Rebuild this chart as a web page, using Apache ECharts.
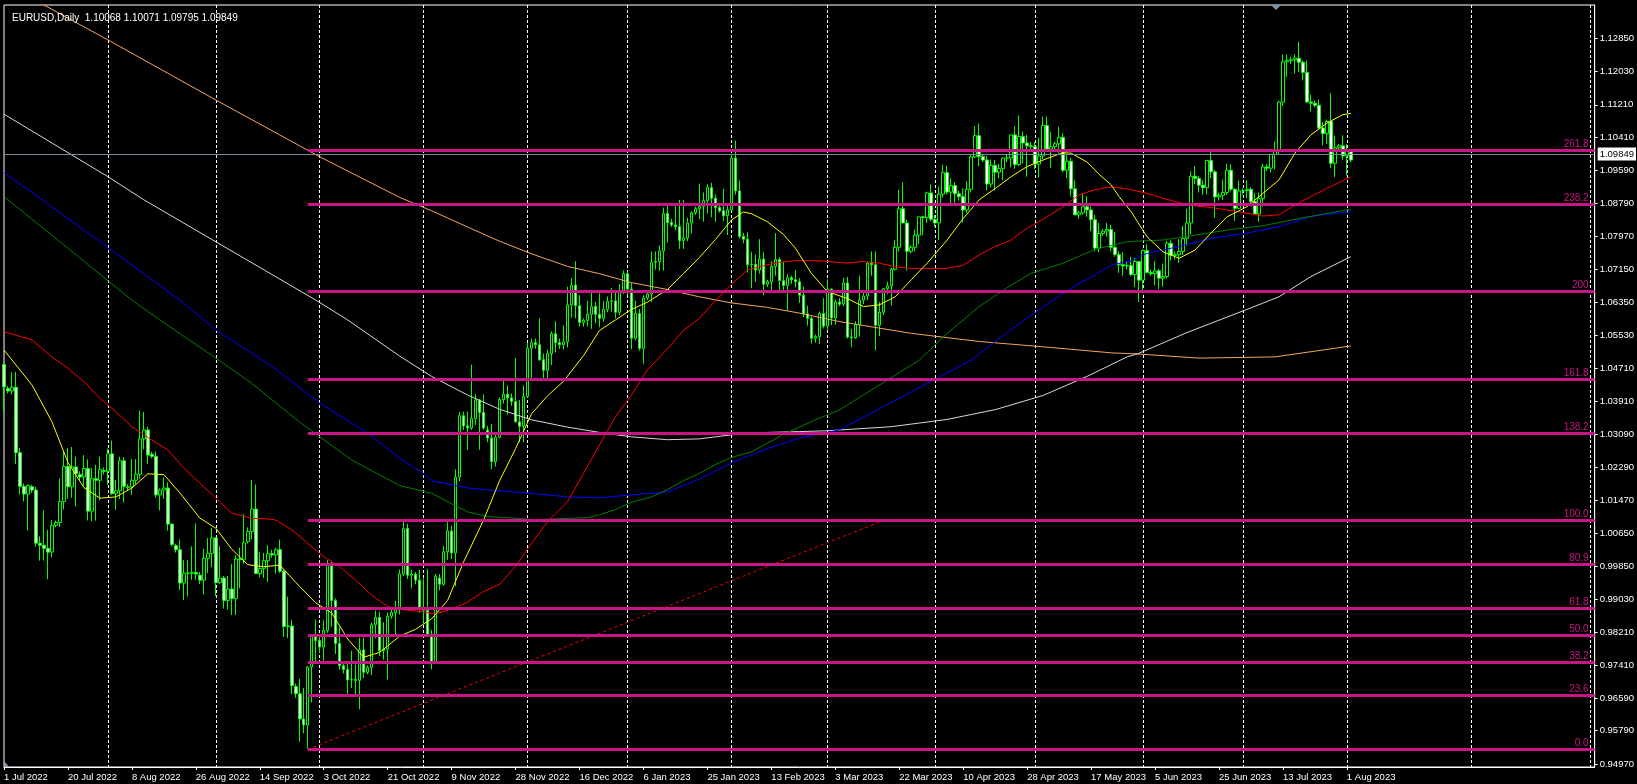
<!DOCTYPE html>
<html><head><meta charset="utf-8">
<script src="https://cdn.jsdelivr.net/npm/echarts@6/dist/echarts.min.js"></script>
<style>html,body{margin:0;padding:0;background:#000;overflow:hidden}#chart{width:1637px;height:784px}</style>
</head><body><div id="chart"></div>
<script>
// ---------- DATA ----------
const symbolName = 'EURUSD,Daily';
const firstBarDate = '2022-07-01';
const lastBarDate = '2023-08-02';
const skippedDays = ['2022-12-25', '2023-01-01', '2023-06-18']; // Sundays without a bar
const totalSlots = 399; // bars + empty future space to the right

// [open, high, low, close] per bar (Sun–Fri bars)
const ohlc = [
[1.0481,1.0486,1.0366,1.0426],
[1.0422,1.0428,1.0410,1.0416],[1.0416,1.0462,1.0407,1.0425],[1.0425,1.0463,1.0236,1.0264],[1.0264,1.0276,1.0161,1.0181],[1.0181,1.0188,1.0144,1.0162],[1.0162,1.0186,1.0072,1.0183],
[1.0180,1.0185,1.0165,1.0172],[1.0172,1.0180,1.0033,1.0041],[1.0041,1.0058,0.9998,1.0036],[1.0036,1.0122,0.9998,1.0028],[1.0028,1.0074,0.9952,1.0019],[1.0019,1.0098,1.0006,1.0085],
[1.0085,1.0097,1.0080,1.0092],[1.0092,1.0200,1.0081,1.0144],[1.0144,1.0268,1.0124,1.0230],[1.0230,1.0275,1.0150,1.0180],[1.0180,1.0278,1.0153,1.0229],[1.0229,1.0254,1.0131,1.0212],
[1.0210,1.0218,1.0196,1.0204],[1.0204,1.0258,1.0181,1.0225],[1.0225,1.0248,1.0097,1.0120],[1.0120,1.0226,1.0095,1.0200],[1.0200,1.0234,1.0097,1.0196],[1.0196,1.0254,1.0146,1.0223],
[1.0220,1.0228,1.0210,1.0218],[1.0218,1.0274,1.0185,1.0261],[1.0261,1.0294,1.0160,1.0163],[1.0163,1.0197,1.0123,1.0170],[1.0170,1.0254,1.0150,1.0244],[1.0244,1.0253,1.0141,1.0181],
[1.0178,1.0186,1.0170,1.0180],[1.0180,1.0248,1.0160,1.0196],[1.0196,1.0248,1.0186,1.0211],[1.0211,1.0368,1.0200,1.0298],[1.0298,1.0364,1.0272,1.0320],[1.0320,1.0328,1.0236,1.0258],
[1.0260,1.0266,1.0250,1.0255],[1.0255,1.0267,1.0153,1.0160],[1.0160,1.0176,1.0122,1.0172],[1.0172,1.0203,1.0150,1.0177],[1.0177,1.0191,1.0072,1.0088],[1.0088,1.0090,1.0033,1.0038],
[1.0035,1.0040,1.0018,1.0025],[1.0025,1.0050,0.9926,0.9943],[0.9943,0.9999,0.9901,0.9967],[0.9967,0.9999,0.9910,0.9967],[0.9967,1.0033,0.9951,0.9969],[0.9969,1.0090,0.9951,0.9965],
[0.9962,0.9970,0.9940,0.9950],[0.9950,1.0027,0.9914,1.0004],[1.0004,1.0054,0.9967,1.0016],[1.0016,1.0079,0.9982,1.0054],[1.0054,1.0056,0.9911,0.9944],[0.9944,1.0033,0.9941,0.9955],
[0.9955,0.9960,0.9880,0.9900],[0.9900,0.9960,0.9877,0.9928],[0.9928,0.9990,0.9864,0.9905],[0.9905,1.0011,0.9864,1.0002],[1.0002,1.0030,0.9930,1.0000],[1.0000,1.0113,0.9990,1.0042],
[1.0045,1.0080,1.0040,1.0070],[1.0070,1.0197,1.0050,1.0125],[1.0125,1.0186,0.9966,0.9966],[0.9966,1.0020,0.9957,0.9979],[0.9979,1.0017,0.9955,0.9998],[0.9998,1.0036,0.9945,1.0015],
[1.0015,1.0025,1.0005,1.0012],[1.0012,1.0030,0.9966,1.0025],[1.0025,1.0050,0.9968,0.9972],[0.9972,0.9976,0.9810,0.9836],[0.9836,0.9909,0.9807,0.9837],[0.9837,0.9852,0.9669,0.9690],
[0.9688,0.9695,0.9660,0.9670],[0.9670,0.9707,0.9552,0.9608],[0.9608,0.9684,0.9573,0.9593],[0.9593,0.9738,0.9535,0.9736],[0.9736,0.9816,0.9649,0.9815],[0.9815,0.9853,0.9749,0.9801],
[0.9801,0.9810,0.9770,0.9785],[0.9785,0.9851,0.9751,0.9826],[0.9826,0.9999,0.9820,0.9986],[0.9986,0.9998,0.9835,0.9900],[0.9900,0.9905,0.9768,0.9794],[0.9794,0.9834,0.9729,0.9739],
[0.9739,0.9745,0.9720,0.9730],[0.9730,0.9748,0.9668,0.9704],[0.9704,0.9776,0.9684,0.9705],[0.9705,0.9742,0.9665,0.9703],[0.9703,0.9808,0.9632,0.9778],[0.9778,0.9809,0.9709,0.9723],
[0.9723,0.9740,0.9718,0.9735],[0.9735,0.9846,0.9716,0.9840],[0.9840,0.9875,0.9807,0.9858],[0.9858,0.9872,0.9763,0.9776],[0.9776,0.9846,0.9754,0.9780],[0.9780,0.9870,0.9705,0.9861],
[0.9861,0.9880,0.9855,0.9870],[0.9870,0.9899,0.9810,0.9877],[0.9877,0.9976,0.9865,0.9965],[0.9965,1.0094,0.9960,1.0077],[1.0077,1.0089,0.9953,0.9962],[0.9962,0.9976,0.9930,0.9965],
[0.9965,0.9970,0.9940,0.9950],[0.9950,0.9975,0.9870,0.9883],[0.9883,0.9954,0.9846,0.9876],[0.9876,0.9977,0.9817,0.9817],[0.9817,0.9827,0.9730,0.9748],[0.9748,0.9965,0.9746,0.9960],
[0.9955,0.9965,0.9925,0.9940],[0.9940,1.0034,0.9936,1.0020],[1.0020,1.0093,1.0000,1.0071],[1.0071,1.0084,1.0002,1.0017],[1.0017,1.0223,0.9935,1.0204],[1.0204,1.0364,1.0194,1.0355],
[1.0355,1.0365,1.0320,1.0330],[1.0330,1.0365,1.0271,1.0325],[1.0325,1.0481,1.0320,1.0348],[1.0348,1.0408,1.0332,1.0394],[1.0394,1.0396,1.0271,1.0363],[1.0363,1.0408,1.0320,1.0325],
[1.0320,1.0330,1.0290,1.0300],[1.0300,1.0335,1.0223,1.0242],[1.0242,1.0308,1.0230,1.0302],[1.0302,1.0400,1.0299,1.0395],[1.0395,1.0448,1.0385,1.0408],[1.0408,1.0430,1.0357,1.0399],
[1.0399,1.0410,1.0380,1.0390],[1.0390,1.0497,1.0339,1.0340],[1.0340,1.0394,1.0290,1.0329],[1.0329,1.0429,1.0290,1.0402],[1.0402,1.0534,1.0399,1.0521],[1.0521,1.0545,1.0446,1.0535],
[1.0535,1.0545,1.0520,1.0530],[1.0530,1.0595,1.0490,1.0493],[1.0493,1.0508,1.0441,1.0467],[1.0467,1.0518,1.0443,1.0508],[1.0508,1.0563,1.0480,1.0557],[1.0557,1.0588,1.0511,1.0535],
[1.0535,1.0545,1.0520,1.0530],[1.0530,1.0578,1.0518,1.0537],[1.0537,1.0673,1.0523,1.0628],[1.0628,1.0695,1.0597,1.0677],[1.0677,1.0736,1.0595,1.0626],[1.0626,1.0652,1.0575,1.0585],
[1.0585,1.0595,1.0575,1.0590],[1.0590,1.0638,1.0575,1.0605],[1.0605,1.0658,1.0569,1.0624],[1.0624,1.0636,1.0583,1.0605],[1.0605,1.0657,1.0573,1.0595],[1.0595,1.0638,1.0587,1.0617],
[1.0617,1.0649,1.0610,1.0637],[1.0637,1.0670,1.0611,1.0638],[1.0638,1.0664,1.0595,1.0610],[1.0610,1.0679,1.0603,1.0660],[1.0660,1.0713,1.0655,1.0705],
[1.0705,1.0710,1.0652,1.0667],[1.0667,1.0683,1.0519,1.0546],[1.0546,1.0638,1.0540,1.0607],[1.0607,1.0618,1.0515,1.0521],[1.0521,1.0652,1.0483,1.0645],
[1.0645,1.0665,1.0640,1.0655],[1.0655,1.0760,1.0635,1.0733],[1.0733,1.0760,1.0715,1.0735],[1.0735,1.0775,1.0712,1.0761],[1.0761,1.0868,1.0713,1.0853],[1.0853,1.0873,1.0781,1.0831],
[1.0831,1.0840,1.0820,1.0825],[1.0825,1.0873,1.0812,1.0821],[1.0821,1.0887,1.0766,1.0787],[1.0787,1.0887,1.0766,1.0793],[1.0793,1.0843,1.0785,1.0830],[1.0830,1.0858,1.0804,1.0855],
[1.0855,1.0870,1.0850,1.0865],[1.0865,1.0927,1.0840,1.0871],[1.0871,1.0905,1.0833,1.0885],[1.0885,1.0925,1.0854,1.0917],[1.0917,1.0929,1.0844,1.0891],[1.0891,1.0900,1.0833,1.0868],
[1.0868,1.0875,1.0855,1.0860],[1.0860,1.0914,1.0835,1.0848],[1.0848,1.0878,1.0800,1.0862],[1.0862,1.1000,1.0860,1.0990],[1.0990,1.1033,1.0900,1.0909],[1.0909,1.0935,1.0792,1.0797],
[1.0797,1.0805,1.0780,1.0790],[1.0790,1.0807,1.0708,1.0727],[1.0727,1.0759,1.0669,1.0728],[1.0728,1.0752,1.0685,1.0714],[1.0714,1.0790,1.0705,1.0741],[1.0741,1.0758,1.0652,1.0679],
[1.0679,1.0690,1.0672,1.0685],[1.0685,1.0736,1.0658,1.0723],[1.0723,1.0805,1.0700,1.0740],[1.0740,1.0745,1.0660,1.0688],[1.0688,1.0735,1.0665,1.0676],[1.0676,1.0704,1.0613,1.0695],
[1.0695,1.0700,1.0680,1.0690],[1.0690,1.0714,1.0671,1.0685],[1.0685,1.0694,1.0633,1.0652],[1.0652,1.0673,1.0598,1.0606],[1.0606,1.0626,1.0577,1.0595],[1.0595,1.0600,1.0533,1.0546],
[1.0546,1.0555,1.0535,1.0550],[1.0550,1.0612,1.0532,1.0607],[1.0607,1.0645,1.0570,1.0576],[1.0576,1.0691,1.0567,1.0667],[1.0667,1.0668,1.0578,1.0596],[1.0596,1.0641,1.0579,1.0635],
[1.0635,1.0645,1.0625,1.0630],[1.0630,1.0695,1.0625,1.0682],[1.0682,1.0697,1.0545,1.0549],[1.0549,1.0569,1.0524,1.0547],[1.0547,1.0588,1.0544,1.0579],[1.0579,1.0700,1.0550,1.0640],
[1.0640,1.0660,1.0630,1.0650],[1.0650,1.0735,1.0640,1.0731],[1.0731,1.0760,1.0700,1.0727],[1.0727,1.0760,1.0516,1.0578],[1.0578,1.0635,1.0551,1.0610],[1.0610,1.0670,1.0603,1.0668],
[1.0668,1.0685,1.0655,1.0675],[1.0675,1.0719,1.0627,1.0716],[1.0716,1.0788,1.0713,1.0770],[1.0770,1.0912,1.0760,1.0865],[1.0865,1.0930,1.0830,1.0830],[1.0830,1.0838,1.0713,1.0760],
[1.0760,1.0775,1.0755,1.0770],[1.0770,1.0814,1.0760,1.0800],[1.0800,1.0846,1.0778,1.0845],[1.0845,1.0848,1.0800,1.0843],[1.0843,1.0907,1.0830,1.0904],[1.0904,1.0925,1.0835,1.0839],
[1.0839,1.0850,1.0820,1.0830],[1.0830,1.0919,1.0788,1.0901],[1.0901,1.0973,1.0893,1.0954],[1.0954,1.0971,1.0900,1.0906],[1.0906,1.0940,1.0878,1.0922],[1.0922,1.0930,1.0880,1.0902],
[1.0902,1.0910,1.0885,1.0895],[1.0895,1.0915,1.0831,1.0862],[1.0862,1.0933,1.0855,1.0913],[1.0913,1.0998,1.0905,1.0993],[1.0993,1.1068,1.0990,1.1045],[1.1045,1.1075,1.0970,1.0994],
[1.0994,1.1000,1.0980,1.0985],[1.0985,1.0995,1.0910,1.0926],[1.0926,1.0986,1.0918,1.0972],[1.0972,1.0985,1.0910,1.0955],[1.0955,1.0975,1.0940,1.0964],[1.0964,1.0991,1.0935,1.0990],
[1.0990,1.1000,1.0980,1.0990],[1.0990,1.1048,1.0967,1.1047],[1.1047,1.1068,1.0964,1.0974],[1.0974,1.1095,1.0970,1.1043],[1.1043,1.1055,1.0977,1.1027],[1.1027,1.1047,1.0944,1.1020],
[1.1020,1.1030,1.1010,1.1018],[1.1018,1.1030,1.0963,1.0975],[1.0975,1.1040,1.0942,1.0995],[1.0995,1.1092,1.0987,1.1070],[1.1070,1.1092,1.1010,1.1012],[1.1012,1.1054,1.0966,1.1018],
[1.1018,1.1030,1.1010,1.1025],[1.1025,1.1067,1.1002,1.1041],[1.1041,1.1051,1.0955,1.0960],[1.0960,1.1000,1.0940,1.0982],[1.0982,1.0990,1.0896,1.0914],[1.0914,1.0935,1.0849,1.0850],
[1.0850,1.0860,1.0840,1.0855],[1.0855,1.0904,1.0850,1.0870],[1.0870,1.0896,1.0845,1.0862],[1.0862,1.0870,1.0810,1.0838],[1.0838,1.0850,1.0760,1.0768],[1.0768,1.0830,1.0758,1.0804],
[1.0804,1.0815,1.0798,1.0810],[1.0810,1.0830,1.0796,1.0814],[1.0814,1.0825,1.0760,1.0770],[1.0770,1.0808,1.0747,1.0752],[1.0752,1.0760,1.0707,1.0727],[1.0727,1.0758,1.0700,1.0724],
[1.0724,1.0735,1.0715,1.0725],[1.0725,1.0747,1.0699,1.0703],[1.0703,1.0745,1.0672,1.0735],[1.0735,1.0736,1.0635,1.0689],[1.0689,1.0765,1.0665,1.0762],[1.0762,1.0778,1.0706,1.0708],
[1.0708,1.0715,1.0700,1.0705],[1.0705,1.0736,1.0676,1.0712],[1.0712,1.0717,1.0667,1.0694],[1.0694,1.0730,1.0673,1.0698],[1.0698,1.0786,1.0693,1.0780],[1.0780,1.0787,1.0737,1.0750],
[1.0750,1.0760,1.0740,1.0752],[1.0752,1.0790,1.0732,1.0760],[1.0760,1.0823,1.0751,1.0792],[1.0792,1.0865,1.0774,1.0830],[1.0830,1.0957,1.0802,1.0945],[1.0945,1.0970,1.0926,1.0940],
[1.0940,1.0946,1.0905,1.0923],[1.0923,1.0935,1.0899,1.0917],[1.0917,1.0985,1.0900,1.0984],[1.0984,1.1012,1.0940,1.0956],[1.0956,1.0961,1.0843,1.0894],
[1.0894,1.0905,1.0885,1.0898],[1.0898,1.0937,1.0887,1.0905],[1.0905,1.0976,1.0899,1.0960],[1.0960,1.0974,1.0908,1.0913],[1.0913,1.0915,1.0835,1.0866],[1.0866,1.0934,1.0865,1.0909],
[1.0909,1.0915,1.0900,1.0910],[1.0910,1.0935,1.0891,1.0913],[1.0913,1.0918,1.0871,1.0883],[1.0883,1.0903,1.0851,1.0852],[1.0852,1.0905,1.0833,1.0890],[1.0890,1.0975,1.0870,1.0968],
[1.0968,1.0975,1.0958,1.0965],[1.0965,1.1001,1.0954,1.0999],[1.0999,1.1031,1.0962,1.1009],[1.1009,1.1131,1.1000,1.1128],[1.1128,1.1245,1.1118,1.1227],[1.1227,1.1245,1.1190,1.1230],
[1.1230,1.1240,1.1222,1.1232],[1.1232,1.1245,1.1198,1.1236],[1.1236,1.1276,1.1202,1.1226],[1.1226,1.1230,1.1181,1.1201],[1.1201,1.1230,1.1126,1.1128],[1.1128,1.1146,1.1105,1.1125],
[1.1125,1.1132,1.1115,1.1120],[1.1120,1.1134,1.1060,1.1064],[1.1064,1.1078,1.1021,1.1050],[1.1050,1.1085,1.1025,1.1080],[1.1080,1.1150,1.0965,1.0977],[1.0977,1.1045,1.0943,1.1015],
[1.1015,1.1025,1.1008,1.1020],[1.1020,1.1046,1.0985,1.0995],[1.0995,1.1024,1.0947,1.1006],[1.10068,1.10071,1.09795,1.09849]
];

// Moving averages: [barIndex, value]
const maYellow = [[0,1.0517],[3,1.0480],[7,1.0431],[12,1.0340],[16,1.0240],[20,1.0178],[24,1.0152],[28,1.0155],[32,1.0177],[36,1.0212],[40,1.0210],[44,1.0165],[49,1.0103],[53,1.0078],[57,1.0026],[61,0.9988],[65,0.9983],[69,0.9987],[74,0.9934],[78,0.9894],[82,0.9869],[86,0.9805],[90,0.9760],[94,0.9772],[99,0.9812],[103,0.9829],[107,0.9855],[111,0.9900],[115,0.9995],[120,1.0098],[124,1.0195],[128,1.0274],[132,1.0360],[136,1.0404],[140,1.0440],[145,1.0503],[149,1.0565],[153,1.0591],[157,1.0617],[161,1.0635],[166,1.0666],[170,1.0705],[174,1.0745],[178,1.0789],[182,1.0837],[185,1.0857],[187,1.0853],[191,1.0833],[195,1.0802],[198,1.0768],[202,1.0706],[206,1.0661],[211,1.0644],[215,1.0624],[219,1.0628],[223,1.0648],[227,1.0690],[231,1.0731],[236,1.0788],[240,1.0841],[244,1.0887],[248,1.0915],[252,1.0944],[256,1.0969],[261,1.0989],[265,1.1003],[267,1.1002],[271,1.0980],[274,1.0950],[277,1.0924],[279,1.0895],[282,1.0858],[286,1.0796],[290,1.0759],[294,1.0743],[298,1.0763],[302,1.0805],[306,1.0845],[311,1.0870],[315,1.0903],[319,1.0936],[323,1.1002],[327,1.1047],[331,1.1076],[335,1.1097],[337,1.1100]];
const maRed = [[0,1.0562],[7,1.0542],[12,1.0500],[16,1.0472],[20,1.0439],[24,1.0398],[28,1.0365],[32,1.0328],[37,1.0295],[41,1.0271],[45,1.0226],[49,1.0189],[53,1.0152],[57,1.0115],[62,1.0102],[66,1.0101],[68,1.0098],[72,1.0074],[76,1.0041],[80,1.0008],[84,0.9983],[88,0.9950],[92,0.9913],[96,0.9885],[100,0.9877],[105,0.9872],[108,0.9866],[113,0.9883],[116,0.9896],[120,0.9922],[124,0.9940],[128,0.9984],[132,1.0041],[136,1.0094],[141,1.0143],[145,1.0213],[149,1.0283],[153,1.0353],[157,1.0406],[161,1.0468],[166,1.0520],[170,1.0565],[174,1.0595],[178,1.0639],[182,1.0679],[186,1.0714],[191,1.0727],[195,1.0734],[199,1.0738],[205,1.0736],[211,1.0731],[215,1.0735],[219,1.0731],[223,1.0722],[227,1.0718],[236,1.0718],[240,1.0726],[244,1.0751],[248,1.0772],[252,1.0788],[256,1.0817],[261,1.0845],[265,1.0870],[269,1.0899],[273,1.0912],[277,1.0919],[281,1.0914],[286,1.0903],[290,1.0891],[294,1.0880],[298,1.0872],[302,1.0868],[306,1.0862],[311,1.0854],[315,1.0847],[319,1.0850],[323,1.0874],[327,1.0895],[331,1.0915],[337,1.0944]];
const maGreen = [[0,1.0895],[32,1.0640],[39,1.0591],[53,1.0497],[62,1.0435],[74,1.0339],[87,1.0246],[99,1.0183],[107,1.0164],[112,1.0138],[116,1.0118],[121,1.0107],[133,1.0099],[146,1.0104],[149,1.0111],[153,1.0124],[157,1.0142],[162,1.0155],[166,1.0173],[170,1.0195],[174,1.0213],[178,1.0235],[182,1.0252],[187,1.0266],[191,1.0287],[195,1.0309],[199,1.0327],[203,1.0345],[209,1.0369],[229,1.0492],[236,1.0558],[244,1.0624],[252,1.0677],[257,1.0706],[265,1.0731],[273,1.0765],[281,1.0784],[290,1.0788],[298,1.0800],[307,1.0814],[315,1.0823],[323,1.0839],[332,1.0855],[337,1.0864]];
const maBlue = [[0,1.0954],[9,1.0891],[44,1.0640],[50,1.0591],[53,1.0566],[66,1.0484],[79,1.0386],[91,1.0312],[99,1.0250],[105,1.0213],[107,1.0195],[116,1.0177],[124,1.0170],[132,1.0164],[141,1.0155],[149,1.0153],[157,1.0160],[166,1.0167],[174,1.0199],[182,1.0239],[191,1.0274],[199,1.0300],[209,1.0320],[242,1.0492],[248,1.0538],[257,1.0603],[265,1.0657],[269,1.0681],[273,1.0702],[277,1.0726],[282,1.0737],[286,1.0755],[294,1.0772],[302,1.0792],[311,1.0805],[319,1.0821],[327,1.0846],[337,1.0858]];
const maWhite = [[0,1.1098],[26,1.0944],[35,1.0887],[78,1.0640],[86,1.0591],[99,1.0502],[107,1.0452],[116,1.0406],[124,1.0371],[132,1.0345],[141,1.0327],[149,1.0314],[157,1.0303],[166,1.0296],[174,1.0298],[182,1.0308],[191,1.0314],[199,1.0316],[206,1.0318],[222,1.0328],[236,1.0346],[248,1.0370],[260,1.0405],[271,1.0452],[281,1.0500],[284,1.0509],[296,1.0560],[311,1.0617],[319,1.0648],[327,1.0698],[337,1.0747]];
const maOrange = [[0,1.1415],[10,1.1367],[26,1.1281],[53,1.1133],[79,1.0993],[99,1.0893],[107,1.0860],[116,1.0820],[124,1.0785],[132,1.0754],[141,1.0723],[149,1.0705],[157,1.0683],[166,1.0666],[174,1.0648],[182,1.0633],[191,1.0622],[199,1.0608],[209,1.0587],[227,1.0558],[244,1.0538],[261,1.0524],[277,1.0510],[284,1.0507],[299,1.0497],[318,1.0500],[337,1.0527]];

// Fibonacci tool anchors and levels
const fibStartBar = 76, fibEndBar = 220;
const fibLow = 0.9533, fibHigh = 1.0097;
const fibRatios = [0, 0.236, 0.382, 0.5, 0.618, 0.809, 1.0, 1.382, 1.618, 2.0, 2.382, 2.618];
const fibLabels = ['0.0','23.6','38.2','50.0','61.8','80.9','100.0','138.2','161.8','200','238.2','261.8'];

// Price axis
const yTickLabels = ['0.94970','0.95790','0.96590','0.97410','0.98210','0.99030','0.99850','1.00650','1.01470','1.02290','1.03090','1.03910','1.04710','1.05530','1.06350','1.07150','1.07970','1.08790','1.09590','1.10410','1.11210','1.12030','1.12850'];
const yMin = 0.94896, yMax = 1.13670;

// ---------- BUILD ----------
const monthNames = ['Jan','Feb','Mar','Apr','May','Jun','Jul','Aug','Sep','Oct','Nov','Dec'];
const DAY = 86400000;
const dates = [];
(function () {
  let t = Date.parse(firstBarDate + 'T00:00:00Z');
  const end = Date.parse(lastBarDate + 'T00:00:00Z');
  while (t <= end) {
    const d = new Date(t);
    const iso = d.toISOString().slice(0, 10);
    if (d.getUTCDay() !== 6 && skippedDays.indexOf(iso) < 0) dates.push(d);
    t += DAY;
  }
  while (dates.length < totalSlots) { dates.push(new Date(t)); t += DAY; }
})();
const categories = dates.map(d => d.getUTCDate() + ' ' + monthNames[d.getUTCMonth()] + ' ' + d.getUTCFullYear());
const isLabelBar = i => i % 16 === 0 && i < ohlc.length;
const isMonthStart = i => i > 0 && dates[i].getUTCMonth() !== dates[i - 1].getUTCMonth();

const FONT = "'Liberation Sans',Arial,sans-serif";
const FS = 9.5;
const MAG = '#C71585';
const last = ohlc[ohlc.length - 1];
const f5 = v => v.toFixed(5);

const maSeries = (data, color, z) => ({
  type: 'line', data: data, showSymbol: false, symbol: 'none', silent: true,
  lineStyle: { color: color, width: 1 }, z: z, animation: false
});

const fibLines = fibRatios.map((r, k) => {
  const lvl = fibLow + r * (fibHigh - fibLow);
  return [
    { coord: [fibStartBar, lvl], label: { show: true, position: 'insideEndTop', formatter: fibLabels[k], color: MAG, fontSize: 10, fontFamily: FONT, distance: [6, 1] } },
    { coord: [totalSlots - 1, lvl] }
  ];
});

const chart = echarts.init(document.getElementById('chart'), null, { renderer: 'canvas' });
chart.setOption({
  backgroundColor: '#000',
  animation: false,
  title: {
    text: symbolName + '  ' + last.map(f5).join(' '),
    left: 7, top: 8,
    textStyle: { color: '#fff', fontSize: 10, fontWeight: 'normal', fontFamily: FONT }
  },
  grid: { left: 4, right: 41, top: 5, bottom: 17, show: true, borderColor: '#fff', borderWidth: 1, backgroundColor: '#000' },
  xAxis: {
    type: 'category', data: categories, boundaryGap: false,
    axisLine: { show: true, lineStyle: { color: '#fff', width: 1 } },
    axisTick: { show: true, interval: isLabelBar, length: 3, lineStyle: { color: '#fff' } },
    axisLabel: { interval: isLabelBar, color: '#fff', fontSize: FS, fontFamily: FONT, align: 'left', margin: 5, showMinLabel: true },
    splitLine: { show: true, interval: isMonthStart, lineStyle: { color: '#fff', width: 1, type: [3, 2] } }
  },
  yAxis: {
    type: 'value', position: 'right', min: yMin, max: yMax, scale: true,
    axisLine: { show: true, lineStyle: { color: '#fff', width: 1 } },
    axisTick: { show: true, length: 3, lineStyle: { color: '#fff' }, customValues: yTickLabels.map(Number) },
    axisLabel: { color: '#fff', fontSize: FS, fontFamily: FONT, margin: 5, customValues: yTickLabels.map(Number), formatter: v => v.toFixed(5) },
    splitLine: { show: false }
  },
  graphic: [
    { type: 'polygon', silent: true, z: 100, shape: { points: [[1271, 5], [1281, 5], [1276, 10]] }, style: { fill: '#7f8fa6' } },
    { type: 'polygon', silent: true, z: 100, shape: { points: [[4, 761], [4, 767], [9, 767]] }, style: { fill: '#8f9fb0' } }
  ],
  series: [
    {
      type: 'candlestick', name: 'EURUSD',
      data: ohlc.map(r => [r[0], r[3], r[2], r[1]]),
      barWidth: 3, z: 2, silent: true,
      itemStyle: { color: '#000', color0: '#fff', borderColor: '#00ff00', borderColor0: '#00ff00', borderWidth: 1 },
      markLine: {
        silent: true, symbol: 'none', z: 6, animation: false,
        lineStyle: { color: '#778899', width: 1, type: 'solid' },
        label: { show: true, position: 'end', formatter: f5(last[3]), color: '#000', backgroundColor: '#fff', padding: [2, 2, 1, 2], fontSize: FS, fontFamily: FONT, distance: 3 },
        data: [{ yAxis: last[3] }]
      }
    },
    maSeries(maOrange, '#F4A460', 3),
    maSeries(maWhite, '#D8D8D8', 3),
    maSeries(maBlue, '#0000FF', 3),
    maSeries(maGreen, '#008000', 3),
    maSeries(maRed, '#FF0000', 3),
    maSeries(maYellow, '#FFFF00', 3),
    {
      type: 'line', name: 'fibo', silent: true, showSymbol: false, symbol: 'none', z: 4,
      data: [[fibStartBar, fibLow], [fibEndBar, fibHigh]],
      lineStyle: { color: '#FF0000', width: 1, type: [3, 3] },
      markLine: {
        silent: true, symbol: 'none', z: 5, animation: false,
        lineStyle: { color: MAG, width: 3, type: 'solid' },
        data: fibLines
      }
    }
  ]
});
</script></body></html>
